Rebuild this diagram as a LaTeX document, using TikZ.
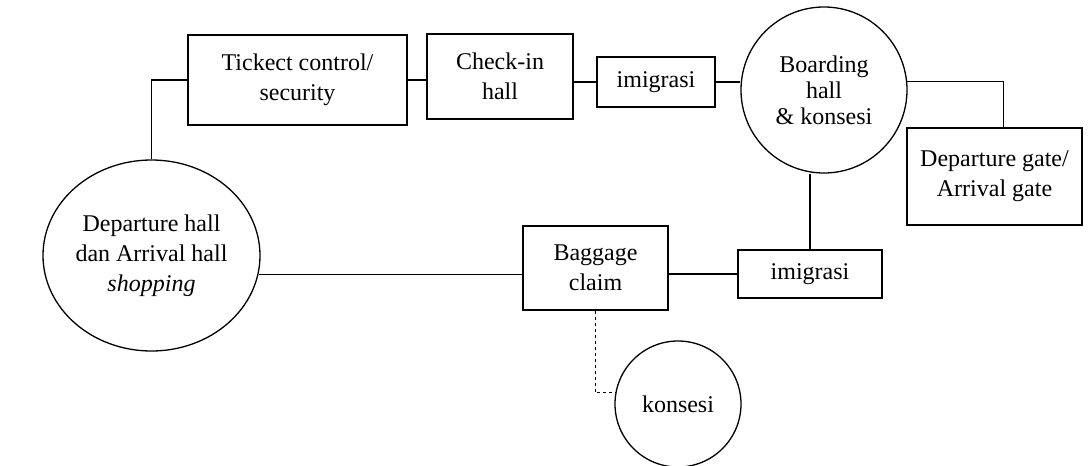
\documentclass[tikz,border=0pt]{standalone}
\usepackage{fontspec}
\setmainfont{Liberation Serif}
\usetikzlibrary{shapes.geometric}

\begin{document}
\begin{tikzpicture}[x=1pt, y=-1pt, line width=1.3pt,
  every node/.style={draw, inner sep=0pt, align=center, font=\fontsize{24}{30}\selectfont},
  hall/.style={circle},
  box/.style={rectangle}]
\useasboundingbox (0,0) rectangle (1088,466);

% departure side
\node[ellipse, minimum width=217, minimum height=191] (dep) at (151.5,255.5) {Departure hall\\dan Arrival hall\\\textit{shopping}};
\node[box, minimum width=219, minimum height=90] (ticket) at (297.5,80) {Tickect control/\\security};
\node[box, minimum width=146, minimum height=85] (checkin) at (500,76.5) {Check-in\\hall};
\node[box, minimum width=118, minimum height=50] (imig1) at (656,82) {imigrasi};
\node[hall, minimum size=166, font=\fontsize{24}{26}\selectfont] (board) at (824,90) {Boarding\\hall\\\& konsesi};
\node[box, minimum width=175, minimum height=97] (gate) at (994.5,176.5) {Departure gate/\\Arrival gate};

% arrival side
\node[box, minimum width=145, minimum height=84] (bag) at (595.5,268) {Baggage\\claim};
\node[box, minimum width=144, minimum height=48] (imig2) at (810,274) {imigrasi};
\node[hall, minimum size=126] (kons) at (678,404) {konsesi};

\draw (dep.north) |- (ticket.west);
\draw (ticket.east) -- (ticket.east -| checkin.west);
\draw (checkin.east |- imig1.west) -- (imig1.west);
\draw (imig1.east) -- (imig1.east -| board.west);
\draw (board.6) -| ([xshift=9pt]gate.north);
\draw (imig2.north) -- (imig2.north |- board.south);
\draw (dep.-10) -- (dep.-10 -| bag.west);
\draw (bag.east |- imig2.west) -- (imig2.west);
\draw[dashed, line width=1pt] (bag.south) |- (kons.170);
\end{tikzpicture}
\end{document}
